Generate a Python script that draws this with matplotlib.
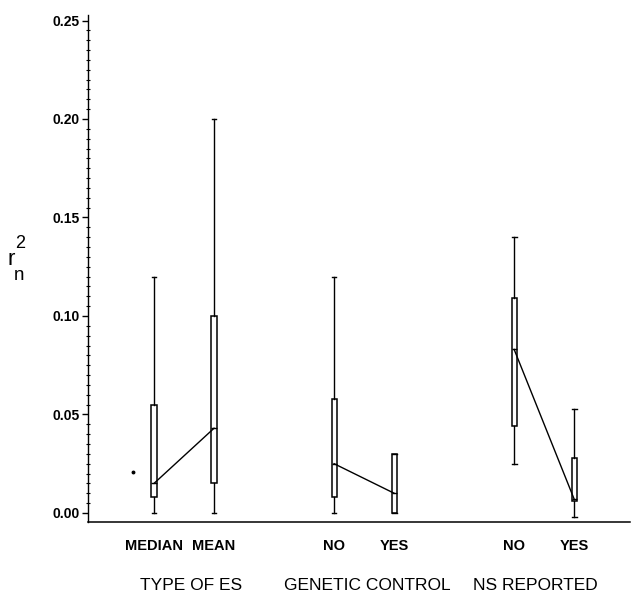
import numpy as np
import matplotlib
matplotlib.use("Agg")
import matplotlib.pyplot as plt
import matplotlib.transforms as mtransforms
from matplotlib.ticker import MultipleLocator

plt.rcParams.update({
    'font.family': ['Liberation Sans', 'DejaVu Sans'],
})

# ── data ───────────────────────────────────────────────────────────────────
labels = ["MEDIAN", "MEAN", "NO", "YES", "NO", "YES"]
groups = ["TYPE OF ES", "GENETIC CONTROL", "NS REPORTED"]
whislo = [0.000, 0.000, 0.000, 0.000, 0.025, -0.002]
q1     = [0.008, 0.015, 0.008, 0.000, 0.044, 0.006]
med    = [0.015, 0.043, 0.025, 0.010, 0.083, 0.007]
q3     = [0.055, 0.100, 0.058, 0.030, 0.109, 0.028]
whishi = [0.120, 0.200, 0.120, 0.030, 0.140, 0.053]
outlier_x = [0.65]
outlier_y = [0.021]

# layout
positions = [1, 2, 4, 5, 7, 8]
group_pos = [1.62, 4.55, 7.35]

stats = [dict(label=l, whislo=a, q1=b, med=c, q3=d, whishi=e, fliers=[])
         for l, a, b, c, d, e in zip(labels, whislo, q1, med, q3, whishi)]

fig = plt.figure(figsize=(6.37, 5.99), dpi=100)
ax = fig.add_axes([88/637, 1 - 522/599, (630 - 88)/637, (522 - 15)/599])

ax.bxp(stats, positions=positions, widths=0.085, capwidths=0.08,
       patch_artist=True, showfliers=False,
       boxprops=dict(facecolor='white', edgecolor='black', linewidth=1.1),
       medianprops=dict(color='black', linewidth=1.0),
       whiskerprops=dict(color='black', linewidth=1.0),
       capprops=dict(color='black', linewidth=1.0))

# medians joined within each factor
for i in range(0, len(positions), 2):
    ax.plot(positions[i:i+2], med[i:i+2], color='black', lw=1.0)

ax.plot(outlier_x, outlier_y, 'o', color='black', ms=1.8)

ax.set_xlim(-0.1, 8.93)
ax.set_ylim(-0.0046, 0.2528)
ax.yaxis.set_minor_locator(MultipleLocator(0.005))
ax.set_yticks([0, 0.05, 0.10, 0.15, 0.20, 0.25])
ax.set_yticklabels(["0.00", "0.05", "0.10", "0.15", "0.20", "0.25"],
                   fontsize=10, fontweight='bold')
ax.tick_params(axis='y', which='major', length=4, width=1, pad=2)
ax.tick_params(axis='y', which='minor', length=3, width=0.8, direction='inout')

ax.set_xticks(positions)
ax.set_xticklabels(labels, fontsize=10.5, fontweight='bold')
ax.tick_params(axis='x', length=0, pad=12)

for s in ['top', 'right']:
    ax.spines[s].set_visible(False)
ax.spines['left'].set_linewidth(1.0)
ax.spines['left'].set_linestyle((0, (4, 1)))
ax.spines['bottom'].set_linewidth(1.1)

trans = mtransforms.blended_transform_factory(ax.transData, fig.transFigure)
for gx, g in zip(group_pos, groups):
    ax.text(gx, 1 - 585/599, g, transform=trans,
            ha='center', va='center', fontsize=12.5)

# y label  r_n^2 drawn in pieces as in the original typesetting
fig.text(20/637, 1 - 244/599, "2", fontsize=13, ha='center', va='center')
fig.text(11/637, 1 - 259/599, "r", fontsize=16, ha='center', va='center')
fig.text(19/637, 1 - 276/599, "n", fontsize=13.5, ha='center', va='center')

fig.savefig("out.png", dpi=100)
